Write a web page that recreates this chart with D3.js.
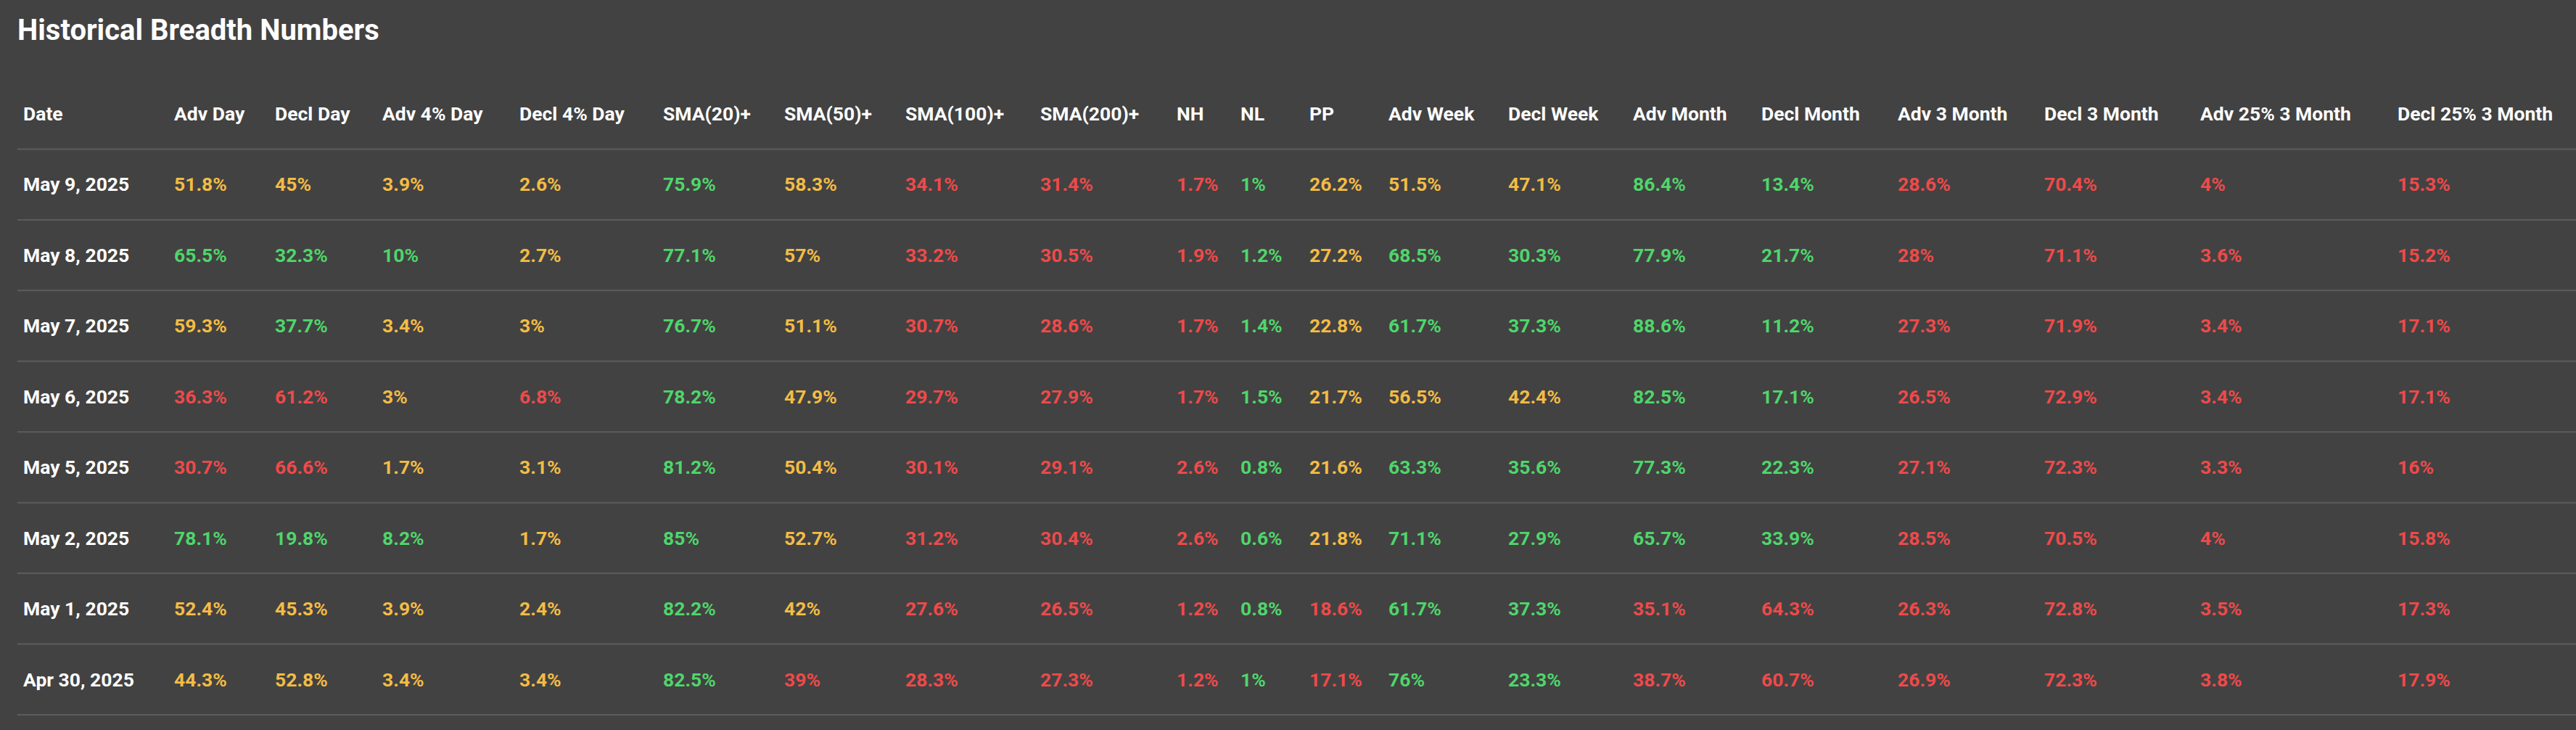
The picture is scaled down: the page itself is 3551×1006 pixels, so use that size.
<!DOCTYPE html>
<html><head><meta charset="utf-8">
<script src="https://cdn.jsdelivr.net/npm/d3@7"></script>
<style>html,body{margin:0;padding:0;background:#424242;overflow:hidden}</style>
</head><body>
<svg id="c" width="3551" height="1006"></svg>
<script>
const columns = ["Date","Adv Day","Decl Day","Adv 4% Day","Decl 4% Day","SMA(20)+","SMA(50)+","SMA(100)+","SMA(200)+","NH","NL","PP","Adv Week","Decl Week","Adv Month","Decl Month","Adv 3 Month","Decl 3 Month","Adv 25% 3 Month","Decl 25% 3 Month"];
const dates = ["May 9, 2025","May 8, 2025","May 7, 2025","May 6, 2025","May 5, 2025","May 2, 2025","May 1, 2025","Apr 30, 2025"];
const values = [
 [51.8,45,3.9,2.6,75.9,58.3,34.1,31.4,1.7,1,26.2,51.5,47.1,86.4,13.4,28.6,70.4,4,15.3],
 [65.5,32.3,10,2.7,77.1,57,33.2,30.5,1.9,1.2,27.2,68.5,30.3,77.9,21.7,28,71.1,3.6,15.2],
 [59.3,37.7,3.4,3,76.7,51.1,30.7,28.6,1.7,1.4,22.8,61.7,37.3,88.6,11.2,27.3,71.9,3.4,17.1],
 [36.3,61.2,3,6.8,78.2,47.9,29.7,27.9,1.7,1.5,21.7,56.5,42.4,82.5,17.1,26.5,72.9,3.4,17.1],
 [30.7,66.6,1.7,3.1,81.2,50.4,30.1,29.1,2.6,0.8,21.6,63.3,35.6,77.3,22.3,27.1,72.3,3.3,16],
 [78.1,19.8,8.2,1.7,85,52.7,31.2,30.4,2.6,0.6,21.8,71.1,27.9,65.7,33.9,28.5,70.5,4,15.8],
 [52.4,45.3,3.9,2.4,82.2,42,27.6,26.5,1.2,0.8,18.6,61.7,37.3,35.1,64.3,26.3,72.8,3.5,17.3],
 [44.3,52.8,3.4,3.4,82.5,39,28.3,27.3,1.2,1,17.1,76,23.3,38.7,60.7,26.9,72.3,3.8,17.9]
];
// g = green, y = yellow, r = red (one letter per value column)
const status = [
 "yyyygyrrrgyyyggrrrr",
 "gggygyrrrgyggggrrrr",
 "ygyygyrrrgyggggrrrr",
 "rryrgyrrrgyyyggrrrr",
 "rryygyrrrgyggggrrrr",
 "gggygyrrrgyggggrrrr",
 "yyyygyrrrgrggrrrrrr",
 "yyyygrrrrgrggrrrrrr"
];
const colorOf = {g:"#4fd66b", y:"#f3bc45", r:"#ee4a4a"};

const W=3551;
const svg=d3.select("#c");
svg.append("text").attr("x",24).attr("y",55).attr("fill","#fff")
  .attr("font-family","Roboto").attr("font-weight",700).attr("font-size",40).text("Historical Breadth Numbers");

const colX = d3.scaleOrdinal().domain(columns)
  .range([32,240,379,527,716,914,1081,1248,1434,1622,1710,1805,1914,2079,2251,2428,2616,2818,3033,3305]);
const y = d3.scaleBand().domain(["__head"].concat(dates)).range([108,985]);

const font = "Roboto", fs = 26.5;
svg.append("g").selectAll("text").data(columns).join("text")
  .attr("x",d=>colX(d)).attr("y",y("__head")+y.bandwidth()/2).attr("dy","0.35em")
  .attr("fill","#fff").attr("font-family",font).attr("font-weight",700).attr("font-size",fs).text(d=>d);
svg.append("g").selectAll("line").data(["__head"].concat(dates)).join("line")
  .attr("x1",24).attr("x2",W).attr("y1",d=>y(d)+y.bandwidth()).attr("y2",d=>y(d)+y.bandwidth())
  .attr("stroke","#5c5c5c").attr("stroke-width",2);
const rows=svg.append("g").selectAll("g").data(dates).join("g")
  .attr("transform",d=>`translate(0,${y(d)+y.bandwidth()/2})`);
rows.append("text").attr("x",colX("Date")).attr("dy","0.35em").attr("fill","#fff")
  .attr("font-family",font).attr("font-weight",700).attr("font-size",fs).text(d=>d);
rows.each(function(d,i){
  d3.select(this).selectAll("text.v").data(values[i]).join("text").attr("class","v")
   .attr("x",(v,j)=>colX(columns[j+1])).attr("dy","0.35em")
   .attr("fill",(v,j)=>colorOf[status[i][j]])
   .attr("font-family",font).attr("font-weight",700).attr("font-size",fs)
   .text(v=>v+"%");
});
</script>
</body></html>
